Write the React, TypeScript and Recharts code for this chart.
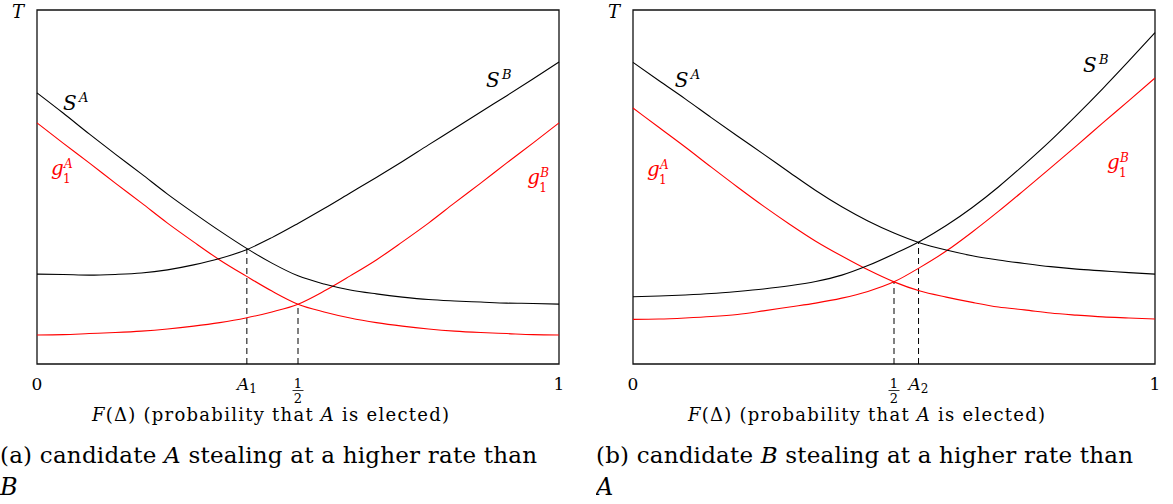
import React from "react";
import {
  LineChart,
  Line,
  XAxis,
  YAxis,
  ReferenceArea,
  ReferenceLine,
  ReferenceDot,
} from "recharts";

const SERIF = "'DejaVu Serif', serif";
const RED = "#ff0000";
const INK = "#000000";

const txt = (size: number, italic = false): React.CSSProperties => ({
  fontFamily: SERIF,
  fontSize: size,
  fontStyle: italic ? "italic" : "normal",
});

// F(Δ) sample points, shared by both panels
const fSteps = [
  0, 0.05, 0.1, 0.15, 0.2, 0.25, 0.3, 0.35, 0.4, 0.45, 0.5, 0.55, 0.6, 0.65,
  0.7, 0.75, 0.8, 0.85, 0.9, 0.95, 1,
];

// panel (a): A steals at a higher rate
const aSA = [76.6, 70.9, 65.0, 59.3, 53.7, 48.0, 42.7, 37.6, 32.8, 28.5, 24.9, 22.6, 20.9, 19.8, 18.9, 18.2, 17.8, 17.5, 17.2, 17.1, 16.9];
const aSB = [25.4, 25.3, 25.1, 25.3, 25.7, 26.6, 28.0, 29.8, 32.2, 35.7, 39.7, 43.9, 48.3, 52.7, 57.2, 61.9, 66.5, 71.2, 75.8, 80.5, 85.3];
const aGA = [68.1, 62.4, 56.8, 51.1, 45.5, 39.8, 34.5, 29.4, 24.9, 20.6, 16.9, 14.7, 13.0, 11.7, 10.7, 9.9, 9.3, 8.9, 8.6, 8.3, 8.2];
const aGB = [8.2, 8.3, 8.6, 8.9, 9.3, 9.9, 10.7, 11.7, 13.0, 14.7, 16.9, 20.6, 24.9, 29.4, 34.5, 39.8, 45.5, 51.1, 56.8, 62.4, 68.1];

// panel (b): B steals at a higher rate
const bSA = [85.2, 80.0, 74.9, 69.6, 64.4, 59.3, 54.1, 49.0, 44.4, 40.4, 37.0, 34.2, 32.2, 30.6, 29.4, 28.4, 27.5, 26.8, 26.3, 25.8, 25.4];
const bSB = [19.0, 19.2, 19.5, 19.9, 20.5, 21.2, 22.1, 23.3, 25.1, 27.8, 31.1, 34.7, 39.1, 44.2, 50.0, 56.4, 63.1, 70.3, 77.8, 85.6, 93.6];
const bGA = [72.3, 66.8, 61.3, 55.6, 50.0, 44.6, 39.5, 34.7, 30.5, 26.6, 23.2, 20.6, 18.9, 17.4, 16.1, 15.3, 14.4, 13.8, 13.3, 13.0, 12.7];
const bGB = [12.6, 12.7, 13.0, 13.4, 14.0, 15.0, 16.1, 17.2, 18.6, 20.5, 23.2, 27.3, 31.9, 37.3, 43.1, 49.2, 55.4, 61.7, 68.1, 74.4, 80.8];

// x ticks
const aTicks = [0, 0.402, 0.5, 1];
const aTickLabels = ["0", "A1", "1/2", "1"];
const bTicks = [0, 0.5, 0.547, 1];
const bTickLabels = ["0", "1/2", "A2", "1"];

// dashed drop lines [x, top y]
const aGuides = [
  [0.402, 32.6],
  [0.5, 16.9],
];
const bGuides = [
  [0.5, 23.2],
  [0.547, 34.4],
];

// curve names: [x, y, base, sup, sub, colour, supDx]
const aNames = [
  [0.05, 71.8, "S", "A", "", INK, 16],
  [0.027, 53.4, "g", "A", "1", RED, 13],
  [0.86, 78.2, "S", "B", "", INK, 16],
  [0.939, 50.8, "g", "B", "1", RED, 13],
];
const bNames = [
  [0.08, 78.2, "S", "A", "", INK, 16],
  [0.027, 53.1, "g", "A", "1", RED, 13],
  [0.862, 82.5, "S", "B", "", INK, 16],
  [0.908, 55.1, "g", "B", "1", RED, 13],
];

const buildRows = (sa: number[], sb: number[], ga: number[], gb: number[]) =>
  fSteps.map((f, i) => ({ f, sa: sa[i], sb: sb[i], ga: ga[i], gb: gb[i] }));

const aRows = buildRows(aSA, aSB, aGA, aGB);
const bRows = buildRows(bSA, bSB, bGA, bGB);

function makeTick(ticks: number[], labels: string[]) {
  return (props: any) => {
    const { x, y, payload } = props;
    const idx = ticks.findIndex((t) => Math.abs(t - payload.value) < 1e-6);
    const lab = labels[idx] ?? "";
    const base = 390 - 364 + y;
    if (lab === "1/2") {
      return (
        <g>
          <text x={x} y={base - 2} textAnchor="middle" style={txt(13)}>1</text>
          <line x1={x - 5.5} x2={x + 5.5} y1={base + 0.5} y2={base + 0.5} stroke={INK} strokeWidth={0.8} />
          <text x={x} y={base + 13} textAnchor="middle" style={txt(13)}>2</text>
        </g>
      );
    }
    if (lab.startsWith("A")) {
      return (
        <text x={x} y={base} textAnchor="middle" style={txt(17)}>
          <tspan style={{ fontStyle: "italic" }}>A</tspan>
          <tspan style={{ fontSize: 12 }} dy={3}>{lab.slice(1)}</tspan>
        </text>
      );
    }
    return (
      <text x={x} y={base} textAnchor="middle" style={txt(17)}>
        {lab}
      </text>
    );
  };
}

function nameShape(n: any[]) {
  const [, , base, sup, sub, color, supDx] = n;
  return (props: any) => {
    const { cx, cy } = props;
    if (sub) {
      return (
        <g fill={color}>
          <text x={cx} y={cy} style={txt(20, true)}>{base}</text>
          <text x={cx + supDx} y={cy - 7} style={txt(12, true)}>{sup}</text>
          <text x={cx + supDx - 1} y={cy + 8} style={txt(12)}>{sub}</text>
        </g>
      );
    }
    return (
      <g fill={color}>
        <text x={cx} y={cy} style={txt(20, true)}>{base}</text>
        <text x={cx + supDx} y={cy - 8} style={txt(13, true)}>{sup}</text>
      </g>
    );
  };
}

function Panel(props: {
  rows: any[];
  ticks: number[];
  tickLabels: string[];
  guides: number[][];
  names: any[][];
}) {
  const { rows, ticks, tickLabels, guides, names } = props;
  return (
    <LineChart
      width={580}
      height={420}
      data={rows}
      margin={{ top: 10, right: 21, bottom: 0, left: 37 }}
    >
      <XAxis
        dataKey="f"
        type="number"
        domain={[0, 1]}
        ticks={ticks}
        interval={0}
        tick={makeTick(ticks, tickLabels)}
        tickLine={false}
        axisLine={false}
        tickSize={0}
        tickMargin={0}
        height={56}
      />
      <YAxis hide domain={[0, 100]} type="number" />
      <ReferenceArea x1={0} x2={1} y1={0} y2={100} fill="none" fillOpacity={0} stroke="#111" strokeWidth={1.3} />
      {guides.map(([gx, gy], i) => (
        <ReferenceLine
          key={`g${i}`}
          segment={[{ x: gx, y: 0 }, { x: gx, y: gy }]}
          stroke={INK}
          strokeWidth={1}
          strokeDasharray="6 4"
        />
      ))}
      <Line dataKey="ga" type="monotone" stroke={RED} strokeWidth={1.1} dot={false} isAnimationActive={false} />
      <Line dataKey="gb" type="monotone" stroke={RED} strokeWidth={1.1} dot={false} isAnimationActive={false} />
      <Line dataKey="sa" type="monotone" stroke={INK} strokeWidth={1.1} dot={false} isAnimationActive={false} />
      <Line dataKey="sb" type="monotone" stroke={INK} strokeWidth={1.1} dot={false} isAnimationActive={false} />
      {names.map((n, i) => (
        <ReferenceDot key={`n${i}`} x={n[0]} y={n[1]} r={0} shape={nameShape(n)} />
      ))}
    </LineChart>
  );
}

function Texts(props: { left: number; tag: string; who: string; other: string }) {
  const { left, tag, who, other } = props;
  return (
    <svg width={590} height={504} style={{ position: "absolute", left, top: 0 }}>
      <text x={12} y={18} style={txt(18, true)}>T</text>
      <text x={92} y={421} style={txt(18)} textLength={357} lengthAdjust="spacing">
        <tspan style={{ fontStyle: "italic" }}>F</tspan>(Δ) (probability that <tspan style={{ fontStyle: "italic" }}>A</tspan> is elected)
      </text>
      <text x={0} y={463} style={txt(23)} textLength={537} lengthAdjust="spacing">
        ({tag}) candidate <tspan style={{ fontStyle: "italic" }}>{who}</tspan> stealing at a higher rate than
      </text>
      <text x={0} y={495} style={txt(24, true)}>{other}</text>
    </svg>
  );
}

export default function App() {
  return (
    <div style={{ position: "absolute", left: 0, top: 0, width: 1173, height: 504, background: "#fff", overflow: "hidden" }}>
      <div style={{ position: "absolute", left: 0, top: 0 }}>
        <Panel rows={aRows} ticks={aTicks} tickLabels={aTickLabels} guides={aGuides} names={aNames} />
      </div>
      <div style={{ position: "absolute", left: 596, top: 0 }}>
        <Panel rows={bRows} ticks={bTicks} tickLabels={bTickLabels} guides={bGuides} names={bNames} />
      </div>
      <Texts left={0} tag="a" who="A" other="B" />
      <Texts left={596} tag="b" who="B" other="A" />
    </div>
  );
}
